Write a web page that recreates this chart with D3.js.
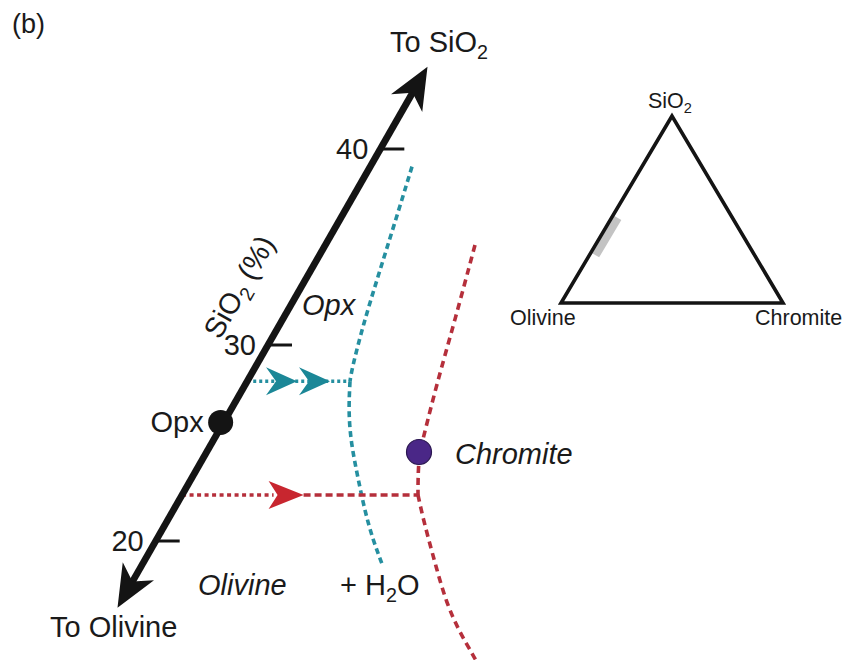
<!DOCTYPE html>
<html>
<head>
<meta charset="utf-8">
<script src="https://cdn.jsdelivr.net/npm/d3@7"></script>
<style>
  body { margin: 0; background: #fff; }
  svg { display: block; background: #fff; }
  text { font-family: "Liberation Sans", Arial, Helvetica, sans-serif; fill: #1a1a1a; }
</style>
</head>
<body>
<svg id="chart" width="851" height="660"></svg>
<script>
// ---- values ----------------------------------------------------------
// SiO2 (%) tick values on the composition axis
const axisTicks = [20, 30, 40];
// SiO2 at the two arrow tips (olivine end, silica end)
const axisExtent = [16.6, 44.2];
// horizontal diagram position of the axis at those two tips
const axisLean = [11.5, 73.5];
// orthopyroxene composition on the axis
const opxSiO2 = 26.05;
// reaction paths: SiO2 where they leave the axis, horizontal position where they end
const pathSiO2 = [28.15, 22.35];
const pathEndU = [58.0, 71.6];
// Opx / Olivine boundary (teal), as [position, SiO2 %]
const tealUpper = [[70.4, 39.1], [66.8, 36.1], [63.6, 33.5], [60.6, 31.0], [58.4, 28.8], [58.0, 28.15]];
const tealLower = [[58.0, 28.15], [57.7, 26.6], [58.2, 25.0], [59.6, 23.2], [61.0, 21.5], [62.6, 20.05], [64.6, 18.7]];
// Chromite boundary (red)
const redUpper = [[83.0, 35.1], [79.0, 31.28], [75.2, 27.86], [73.0, 25.6], [71.8, 24.4], [71.6, 23.2], [71.6, 22.35]];
const redLower = [[71.6, 22.35], [72.4, 21.4], [73.6, 20.2], [75.2, 18.7], [77.2, 16.9], [79.8, 15.4], [82.6, 14.2], [83.8, 13.6]];
// chromite composition point
const chromitePt = [71.8, 24.54];
// ternary inset: apices and the Opx range along the Olivine–SiO2 join (% SiO2)
const ternaryApices = ["SiO2", "Olivine", "Chromite"];
const insetRange = [27, 47];

// ---- scales ----------------------------------------------------------
const svg = d3.select("#chart");
const x = d3.scaleLinear().domain([0, 100]).range([60, 560]);
const y = d3.scaleLinear().domain([20, 40]).range([541, 149]);
const axisU = d3.scaleLinear().domain(axisExtent).range(axisLean);
const axisPt = s => [x(axisU(s)), y(s)];

const TEAL = "#1b8797", TEAL_LINE = "#258fa0";
const RED = "#c8262f", RED_LINE = "#b52f3b";
const INK = "#141414";
const FS = 29;

const line = d3.line().x(d => x(d[0])).y(d => y(d[1])).curve(d3.curveBasis);

// text with optional subscripts: parts = [[string, isSub], ...]
function richText(g, px, py, parts, size, opts = {}) {
  const t = g.append("text").attr("x", px).attr("y", py)
    .attr("font-size", size)
    .attr("text-anchor", opts.anchor || "start")
    .attr("font-style", opts.italic ? "italic" : "normal");
  if (opts.transform) t.attr("transform", opts.transform);
  const subSize = size * 0.68, shift = size * 0.24;
  let down = false;
  parts.forEach(([str, sub]) => {
    const ts = t.append("tspan").text(str);
    if (sub) { ts.attr("font-size", subSize).attr("dy", down ? 0 : shift); down = true; }
    else { if (down) ts.attr("dy", -shift); down = false; }
  });
  return t;
}

// ---- boundaries ------------------------------------------------------
const curves = svg.append("g").attr("fill", "none");
[redUpper, redLower].forEach(pts => curves.append("path")
  .attr("d", line(pts)).attr("stroke", RED_LINE).attr("stroke-width", 3.6)
  .attr("stroke-dasharray", "7,5"));

// ---- reaction paths --------------------------------------------------
const headShape = (len, half, notch) => `M0,0L${-len},${-half}L${-notch},0L${-len},${half}Z`;
const paths = svg.append("g");

// red: dotted to the arrow, dashed beyond
{
  const [x0, yy] = axisPt(pathSiO2[1]);
  const x1 = x(pathEndU[1]);
  const tip = x0 + (x1 - x0) * 0.515;
  paths.append("line").attr("x1", x0).attr("x2", tip - 30).attr("y1", yy).attr("y2", yy)
    .attr("stroke", RED_LINE).attr("stroke-width", 3.6).attr("stroke-dasharray", "4,3.5");
  paths.append("line").attr("x1", tip).attr("x2", x1).attr("y1", yy).attr("y2", yy)
    .attr("stroke", RED_LINE).attr("stroke-width", 3.6).attr("stroke-dasharray", "7,4");
  paths.append("path").attr("d", headShape(35, 14, 26)).attr("fill", RED)
    .attr("transform", `translate(${tip},${yy})`);
}

[tealUpper, tealLower].forEach(pts => curves.append("path")
  .attr("d", line(pts)).attr("stroke", TEAL_LINE).attr("stroke-width", 3.6)
  .attr("stroke-dasharray", "6,4"));

// teal: dotted path with a double chevron
{
  const [x0, yy] = axisPt(pathSiO2[0]);
  const x1 = x(pathEndU[0]);
  paths.append("line").attr("x1", x0).attr("x2", x1).attr("y1", yy).attr("y2", yy)
    .attr("stroke", TEAL_LINE).attr("stroke-width", 3.6).attr("stroke-dasharray", "3,3");
  [x1 - 53, x1 - 20].forEach(tx => paths.append("path")
    .attr("d", headShape(31, 14, 21)).attr("fill", TEAL)
    .attr("transform", `translate(${tx},${yy})`));
}

// ---- SiO2 axis -------------------------------------------------------
const axisG = svg.append("g");
const pLo = axisPt(axisExtent[0]), pHi = axisPt(axisExtent[1]);
const ang = Math.atan2(pHi[1] - pLo[1], pHi[0] - pLo[0]);
const angDeg = ang * 180 / Math.PI;
const ux = Math.cos(ang), uy = Math.sin(ang);
const inset = 26;
axisG.append("line")
  .attr("x1", pLo[0] + ux * inset).attr("y1", pLo[1] + uy * inset)
  .attr("x2", pHi[0] - ux * inset).attr("y2", pHi[1] - uy * inset)
  .attr("stroke", INK).attr("stroke-width", 6.8);
axisG.append("path").attr("d", headShape(42, 18, 30)).attr("fill", INK)
  .attr("transform", `translate(${pHi[0]},${pHi[1]}) rotate(${angDeg})`);
axisG.append("path").attr("d", headShape(42, 18, 30)).attr("fill", INK)
  .attr("transform", `translate(${pLo[0]},${pLo[1]}) rotate(${angDeg + 180})`);

const ticks = axisG.selectAll("g.tick").data(axisTicks).join("g").attr("class", "tick")
  .attr("transform", d => `translate(${axisPt(d)[0]},${axisPt(d)[1]})`);
ticks.append("line").attr("x1", 0).attr("x2", 24).attr("stroke", INK).attr("stroke-width", 3);
ticks.append("text").attr("x", -12).attr("dy", "0.36em").attr("text-anchor", "end")
  .attr("font-size", FS).text(d => d);

// axis title, running along the axis
{
  const mid = axisPt(31.6);
  const nx = Math.sin(ang), ny = -Math.cos(ang); // left-hand normal
  const cx = mid[0] + nx * 54, cy = mid[1] + ny * 54;
  richText(axisG, 0, 0, [["SiO", 0], ["2", 1], [" (%)", 0]], FS,
    { anchor: "middle", transform: `translate(${cx},${cy}) rotate(${angDeg}) translate(0,10)` });
}

// ---- composition points ---------------------------------------------
const [ox, oy] = axisPt(opxSiO2);
svg.append("circle").attr("cx", ox - 3).attr("cy", oy).attr("r", 12.5).attr("fill", INK);
svg.append("text").attr("x", ox - 20).attr("y", oy).attr("dy", "0.33em")
  .attr("text-anchor", "end").attr("font-size", FS).text("Opx");

svg.append("circle").attr("cx", x(chromitePt[0])).attr("cy", y(chromitePt[1])).attr("r", 12.5)
  .attr("fill", "#4a2787").attr("stroke", "#2a1650").attr("stroke-width", 1.2);
svg.append("text").attr("x", x(chromitePt[0]) + 36).attr("y", y(chromitePt[1])).attr("dy", "0.4em")
  .attr("font-size", FS).attr("font-style", "italic").text("Chromite");

// ---- field labels ----------------------------------------------------
svg.append("text").attr("x", 12).attr("y", 33).attr("font-size", 27).text("(b)");
richText(svg, 390, 52, [["To SiO", 0], ["2", 1]], FS);
richText(svg, 50, 637, [["To Olivine", 0]], FS);
richText(svg, 302, 315, [["Opx", 0]], FS, { italic: true });
richText(svg, 198, 595, [["Olivine", 0]], FS, { italic: true });
richText(svg, 340, 595, [["+ H", 0], ["2", 1], ["O", 0]], FS);

// ---- ternary inset ---------------------------------------------------
const tx = d3.scaleLinear().domain([0, 1]).range([561, 783]);
const ty = d3.scaleLinear().domain([0, 1]).range([303, 116]);
// apex coordinates: SiO2 (top), Olivine (bottom left), Chromite (bottom right)
const apex = [[tx(0.5), ty(1)], [tx(0), ty(0)], [tx(1), ty(0)]];
const tern = svg.append("g");

// Opx range on the Olivine–SiO2 join, drawn just inside the edge
{
  const edge = s => [tx(0.5 * s / 100), ty(s / 100)];
  const a = edge(insetRange[0]), b = edge(insetRange[1]);
  const ex = b[0] - a[0], ey = b[1] - a[1], el = Math.hypot(ex, ey);
  const nx = -ey / el, ny = ex / el; // points into the triangle
  const o1 = 1.5, o2 = 9.5;
  tern.append("path").attr("fill", "#c3c3c3")
    .attr("d", `M${a[0] + nx * o1},${a[1] + ny * o1}L${b[0] + nx * o1},${b[1] + ny * o1}` +
               `L${b[0] + nx * o2},${b[1] + ny * o2}L${a[0] + nx * o2},${a[1] + ny * o2}Z`);
}
tern.append("path").attr("d", "M" + apex.join("L") + "Z")
  .attr("fill", "none").attr("stroke", INK).attr("stroke-width", 3.6).attr("stroke-linejoin", "miter");

const apexText = {
  SiO2: g => richText(g, apex[0][0] - 2, apex[0][1] - 8, [["SiO", 0], ["2", 1]], 21.5, { anchor: "middle" }),
  Olivine: g => richText(g, apex[1][0] - 51, apex[1][1] + 22, [["Olivine", 0]], 21.5),
  Chromite: g => richText(g, apex[2][0] - 28, apex[2][1] + 22, [["Chromite", 0]], 21.5)
};
ternaryApices.forEach(k => apexText[k](tern));
</script>
</body>
</html>
